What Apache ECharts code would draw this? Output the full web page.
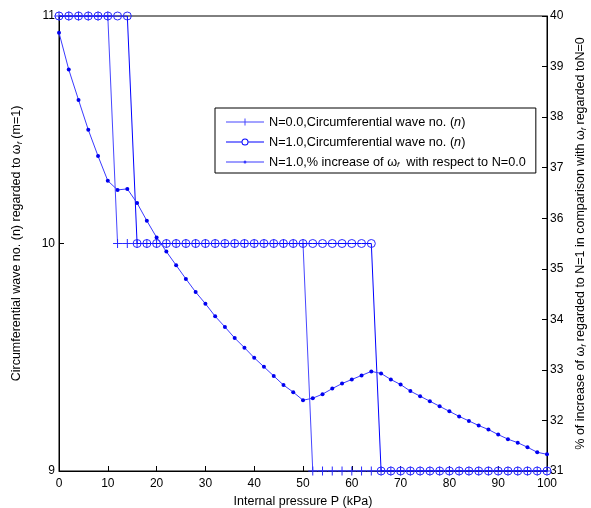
<!DOCTYPE html>
<html>
<head>
<meta charset="utf-8">
<script src="https://cdn.jsdelivr.net/npm/echarts/dist/echarts.min.js"></script>
<style>
html,body{margin:0;padding:0;background:#fff;}
#chart{width:591px;height:508px;}
</style>
</head>
<body>
<div id="chart"></div>
<script>
// ---- data ----
const pressure = [0,2,4,6,8,10,12,14,16,18,20,22,24,26,28,30,32,34,36,38,40,42,44,46,48,50,
  52,54,56,58,60,62,64,66,68,70,72,74,76,78,80,82,84,86,88,90,92,94,96,98,100];
const waveN0 = [11,11,11,11,11,11,
  10,10,10,10,10,10,10,10,10,10,10,10,10,10,10,10,10,10,10,10,
  9,9,9,9,9,9,9,9,9,9,9,9,9,9,9,9,9,9,9,9,9,9,9,9,9];
const waveN1 = [11,11,11,11,11,11,11,11,
  10,10,10,10,10,10,10,10,10,10,10,10,10,10,10,10,10,10,10,10,10,10,10,10,10,
  9,9,9,9,9,9,9,9,9,9,9,9,9,9,9,9,9,9];
const pctIncrease = [39.67,38.94,38.34,37.75,37.23,36.74,36.56,36.58,36.30,35.95,35.62,35.34,35.07,34.80,34.54,34.31,
  34.06,33.85,33.63,33.44,33.24,33.06,32.88,32.70,32.56,32.40,32.44,32.52,32.63,32.73,32.81,32.89,32.97,
  32.93,32.81,32.71,32.58,32.48,32.38,32.28,32.18,32.08,31.99,31.90,31.82,31.72,31.63,31.56,31.47,31.37,31.33];
const xTicks = {min:0, max:100, step:10};
const leftTicks = {min:9, max:11, step:1};
const rightTicks = {min:31, max:40, step:1};
const seriesNames = ['N=0.0', 'N=1.0', 'N=1.0 pct'];

// ---- chart ----
const FONT = "'Liberation Sans', Arial, sans-serif";
const pair = (ys) => pressure.map((x, i) => [x, ys[i]]);
const LF = 12.7;
const richStyles = {
  a: {fontSize: LF, fontFamily: FONT, color: '#000', lineHeight: 14},
  i: {fontSize: LF, fontFamily: FONT, color: '#000', fontStyle: 'italic', lineHeight: 14},
  sub: {fontSize: 8, fontFamily: FONT, color: '#000', fontStyle: 'italic', verticalAlign: 'bottom'}
};
const nameRich = {
  a: {fontSize: 12.5, fontFamily: FONT, color: '#000', lineHeight: 14},
  sub: {fontSize: 8, fontFamily: FONT, color: '#000', fontStyle: 'italic', verticalAlign: 'bottom'}
};
const legendLabels = {
  'N=0.0': '{a|N=0.0,Circumferential wave no. (}{i|n}{a|)}',
  'N=1.0': '{a|N=1.0,Circumferential wave no. (}{i|n}{a|)}',
  'N=1.0 pct': '{a|N=1.0,% increase of ω}{sub|f}{a|  with respect to N=0.0}'
};
// legend icons (line + marker), drawn in a 38 x 7 box
const iconPlus = 'path://M0,3L18.5,3L18.5,0L19.5,0L19.5,3L38,3L38,4L19.5,4L19.5,7L18.5,7L18.5,4L0,4Z';
const iconCircle = 'path://M0,3L15.5,3L15.5,4L0,4Z M22.5,3L38,3L38,4L22.5,4Z ' +
  'M15.5,3.5A3.5,3.5 0 1 1 22.5,3.5A3.5,3.5 0 1 1 15.5,3.5Z M16.5,3.5A2.5,2.5 0 1 0 21.5,3.5A2.5,2.5 0 1 0 16.5,3.5Z';
const iconDot = 'path://M0,1L38,1L38,2L0,2Z M17.5,1.5A1.5,1.5 0 1 1 20.5,1.5A1.5,1.5 0 1 1 17.5,1.5Z';

const chart = echarts.init(document.getElementById('chart'), null, {renderer: 'canvas'});
const axisCommon = {
  axisLine: {show: true, lineStyle: {color: '#000', width: 1}},
  axisTick: {show: true, inside: true, length: 5, lineStyle: {color: '#000'}},
  splitLine: {show: false},
  axisLabel: {color: '#000', fontSize: 12, fontFamily: FONT},
  nameTextStyle: {color: '#000', fontSize: 12.5, fontFamily: FONT, rich: nameRich}
};
chart.setOption({
  animation: false,
  backgroundColor: '#fff',
  textStyle: {fontFamily: FONT},
  grid: {left: 59, top: 16, width: 488, height: 455, show: true, borderColor: '#000', borderWidth: 1,
         backgroundColor: '#fff', outerBoundsMode: 'none', containLabel: false},
  legend: {
    orient: 'vertical', left: 215, top: 108,
    itemWidth: 38, itemHeight: 7, itemGap: 6,
    padding: [7, 10, 4, 11],
    borderColor: '#000', borderWidth: 1, backgroundColor: '#fff',
    selectedMode: false, symbolKeepAspect: true,
    data: [
      {name: seriesNames[0], icon: iconPlus, itemStyle: {color: '#4646ff', borderWidth: 0}},
      {name: seriesNames[1], icon: iconCircle, itemStyle: {color: '#0000ff', borderWidth: 0}},
      {name: seriesNames[2], icon: iconDot, itemStyle: {color: '#3a3aff', borderWidth: 0}}
    ],
    formatter: (name) => legendLabels[name],
    textStyle: {color: '#000', fontSize: LF, fontFamily: FONT, lineHeight: 14, rich: richStyles}
  },
  xAxis: Object.assign({}, axisCommon, {
    type: 'value', min: xTicks.min, max: xTicks.max, interval: xTicks.step,
    name: 'Internal pressure P (kPa)', nameLocation: 'middle', nameGap: 18,
    axisLabel: Object.assign({}, axisCommon.axisLabel, {margin: 7})
  }),
  yAxis: [
    Object.assign({}, axisCommon, {
      type: 'value', position: 'left', min: leftTicks.min, max: leftTicks.max, interval: leftTicks.step,
      name: '{a|Circumferential wave no. (n) regarded to ω}{sub|f}{a| (m=1)}',
      nameLocation: 'middle', nameGap: 35,
      axisLabel: Object.assign({}, axisCommon.axisLabel, {margin: 4})
    }),
    Object.assign({}, axisCommon, {
      type: 'value', position: 'right', min: rightTicks.min, max: rightTicks.max, interval: rightTicks.step,
      name: '{a|% of increase of ω}{sub|f}{a| regarded to N=1 in comparison with ω}{sub|f}{a| regarded toN=0}',
      nameLocation: 'middle', nameGap: 26,
      axisLabel: Object.assign({}, axisCommon.axisLabel, {margin: 3})
    })
  ],
  series: [
    {
      name: seriesNames[0], type: 'line', yAxisIndex: 0, data: pair(waveN0),
      symbol: 'path://M0,-1L0,1M-1,0L1,0', symbolSize: 9, showAllSymbol: true,
      lineStyle: {color: '#4646ff', width: 1},
      itemStyle: {color: '#2a2aff', borderColor: '#2a2aff', borderWidth: 1},
      z: 3
    },
    {
      name: seriesNames[1], type: 'line', yAxisIndex: 0, data: pair(waveN1),
      symbol: 'circle', symbolSize: 8, showAllSymbol: true,
      lineStyle: {color: '#0000ff', width: 1},
      itemStyle: {color: 'rgba(0,0,0,0)', borderColor: '#2a2aff', borderWidth: 1},
      z: 4
    },
    {
      name: seriesNames[2], type: 'line', yAxisIndex: 1, data: pair(pctIncrease),
      symbol: 'circle', symbolSize: 4, showAllSymbol: true,
      lineStyle: {color: '#3a3aff', width: 1},
      itemStyle: {color: '#0000f0', borderColor: '#0000f0', borderWidth: 0},
      z: 5
    }
  ]
});
</script>
</body>
</html>
